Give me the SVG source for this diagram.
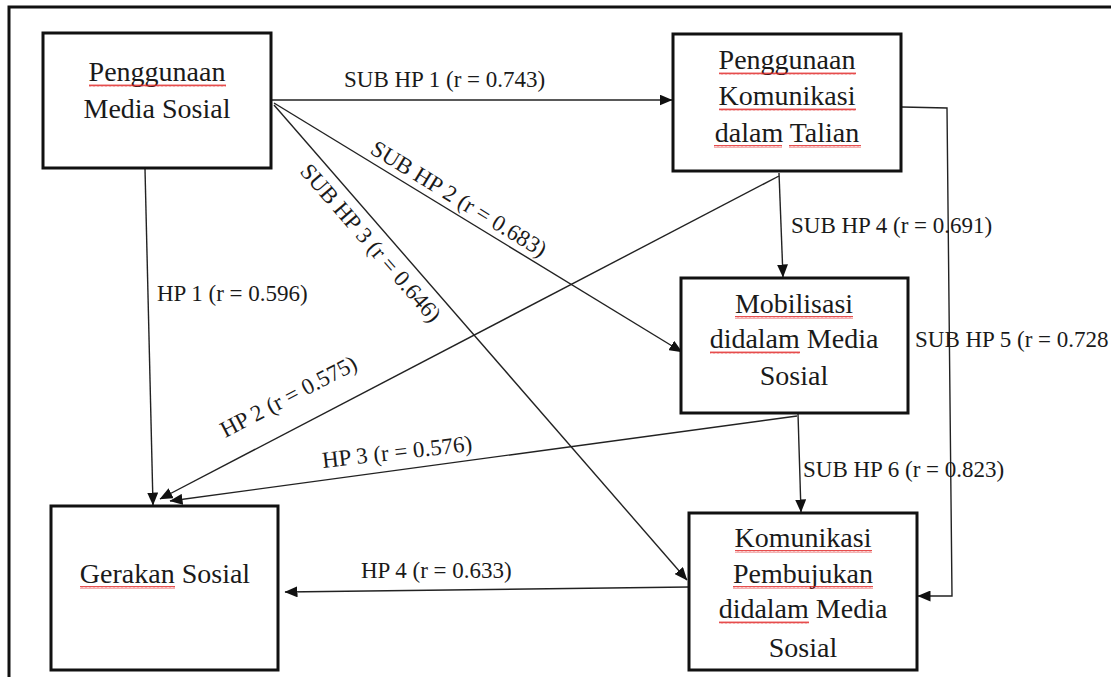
<svg xmlns="http://www.w3.org/2000/svg" width="1111" height="677" viewBox="0 0 1111 677">
<style>
.frame{fill:none;stroke:#111;stroke-width:3}
.box{fill:#fff;stroke:#111;stroke-width:3}
.bt{font-family:"Liberation Serif","Times New Roman",serif;font-size:28px;fill:#1a1a1a;text-anchor:middle}
.lb{font-family:"Liberation Serif","Times New Roman",serif;font-size:23px;fill:#1a1a1a}
.cn{fill:none;stroke:#222;stroke-width:1.4;marker-end:url(#ah)}
.cn0{fill:none;stroke:#222;stroke-width:1.4}
.sq{fill:url(#wavy)}
</style>
<defs>
<marker id="ah" markerUnits="userSpaceOnUse" markerWidth="13" markerHeight="11" viewBox="0 0 13 11" refX="12.5" refY="5.5" orient="auto">
<path d="M0,0 L13,5.5 L0,11 Z" fill="#111"/>
</marker>
<pattern id="wavy" patternUnits="userSpaceOnUse" width="4" height="3">
<path d="M0,2.5 L1,0.5 L2,2.5 L3,0.5 L4,2.5" fill="none" stroke="#e02020" stroke-width="0.8"/>
</pattern>
</defs>
<rect class="frame" x="9" y="7" width="1130" height="700"/>

<g id="connectors">
<path class="cn" d="M272,100 L672,100"/>
<path class="cn" d="M145,169 L153,505"/>
<path class="cn" d="M274,103 L682,352"/>
<path class="cn" d="M274,105 L687,580"/>
<path class="cn" d="M779,173 L783,277"/>
<path class="cn" d="M779,176 L160,499"/>
<path class="cn" d="M797,416 L170,501"/>
<path class="cn" d="M798,414 L801,512"/>
<path class="cn" d="M902,107 L947,108 L952,596 L918,596"/>
<path class="cn" d="M689,587 L285,592"/>
<text class="lb" x="344" y="87">SUB HP 1 (r = 0.743)</text>
<text class="lb" x="157" y="301">HP 1 (r = 0.596)</text>
<text class="lb" transform="translate(274,103) rotate(31.4)" x="107" y="-7">SUB HP 2 (r = 0.683)</text>
<text class="lb" transform="translate(274,105) rotate(49)" x="67" y="25">SUB HP 3 (r = 0.646)</text>
<text class="lb" x="791" y="233">SUB HP 4 (r = 0.691)</text>
<text class="lb" transform="translate(160,499) rotate(-27.5)" x="86" y="-24">HP 2 (r = 0.575)</text>
<text class="lb" x="915" y="347">SUB HP 5 (r = 0.728</text>
<text class="lb" transform="translate(323,468) rotate(-6.5)" x="0" y="0">HP 3 (r = 0.576)</text>
<text class="lb" x="803" y="477">SUB HP 6 (r = 0.823)</text>
<text class="lb" x="361" y="578">HP 4 (r = 0.633)</text>
</g>

<g id="node-penggunaan-media-sosial">
<rect class="box" x="43" y="33" width="228" height="135"/>
<text class="bt" x="157" y="81">Penggunaan</text>
<text class="bt" x="157" y="118">Media Sosial</text>
<rect class="sq" x="89" y="84" width="137" height="3"/>
</g>

<g id="node-penggunaan-komunikasi">
<rect class="box" x="673" y="34" width="228" height="137"/>
<text class="bt" x="787" y="69">Penggunaan</text>
<text class="bt" x="787" y="105">Komunikasi</text>
<text class="bt" x="787" y="142">dalam Talian</text>
<rect class="sq" x="719" y="72" width="137" height="3"/>
<rect class="sq" x="719" y="108" width="137" height="3"/>
<rect class="sq" x="714" y="145" width="68" height="3"/>
<rect class="sq" x="789" y="145" width="72" height="3"/>
</g>

<g id="node-mobilisasi">
<rect class="box" x="681" y="278" width="227" height="135"/>
<text class="bt" x="794" y="313">Mobilisasi</text>
<text class="bt" x="794" y="348">didalam Media</text>
<text class="bt" x="794" y="385">Sosial</text>
<rect class="sq" x="735" y="316" width="118" height="3"/>
<rect class="sq" x="710" y="351" width="90" height="3"/>
</g>

<g id="node-gerakan-sosial">
<rect class="box" x="51" y="506" width="227" height="164"/>
<text class="bt" x="165" y="583">Gerakan Sosial</text>
<rect class="sq" x="80" y="586" width="95" height="3"/>
</g>

<g id="node-komunikasi-pembujukan">
<rect class="box" x="689" y="513" width="228" height="157"/>
<text class="bt" x="803" y="547">Komunikasi</text>
<text class="bt" x="803" y="583">Pembujukan</text>
<text class="bt" x="803" y="618">didalam Media</text>
<text class="bt" x="803" y="657">Sosial</text>
<rect class="sq" x="735" y="550" width="137" height="3"/>
<rect class="sq" x="733" y="586" width="140" height="3"/>
<rect class="sq" x="719" y="621" width="90" height="3"/>
</g>
</svg>
